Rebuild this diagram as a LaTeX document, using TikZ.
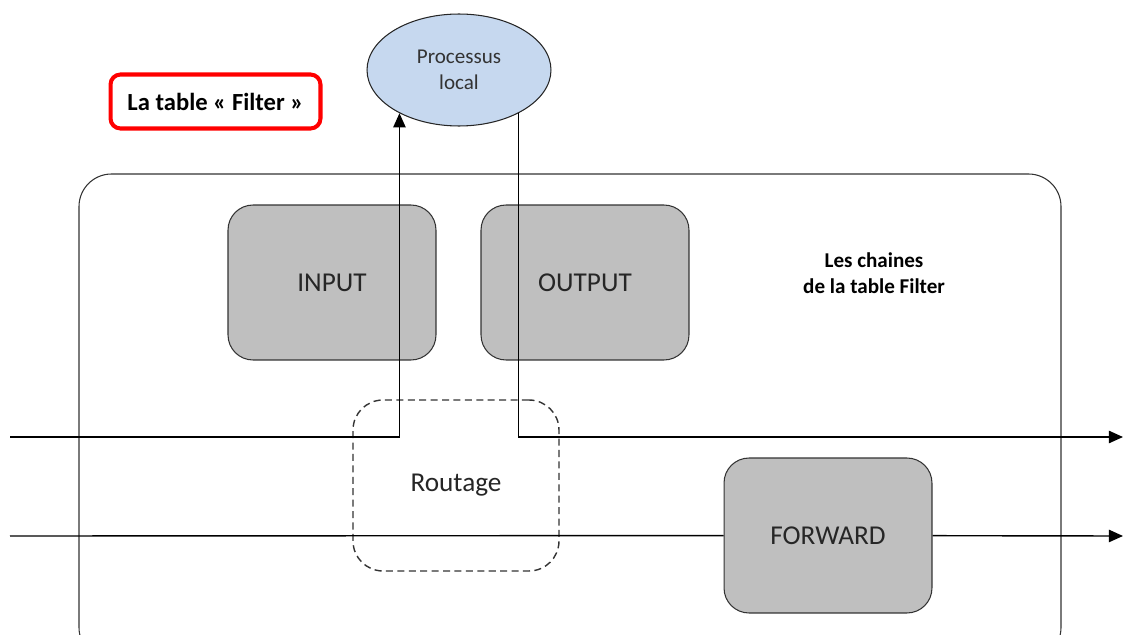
\documentclass[tikz,border=0pt]{standalone}
\usepackage{fontspec}
\setmainfont{Carlito}
\usetikzlibrary{shapes.geometric,arrows.meta}
\definecolor{chaingray}{HTML}{BFBFBF}
\definecolor{procblue}{HTML}{C6D8EF}

\begin{document}
\begin{tikzpicture}[x=0.02cm,y=-0.02cm,
	chain/.style={draw=black!80,line width=0.6pt,fill=chaingray,rounded corners=0.5cm,
		minimum width=4.16cm,minimum height=3.1cm,
		font=\fontsize{15.5}{18}\selectfont,text=black!85},
	route/.style={draw=black!80,line width=0.8pt,dash pattern=on 4pt off 2.5pt,rounded corners=0.6cm,
		minimum width=4.12cm,minimum height=3.42cm,
		font=\fontsize{15.5}{18}\selectfont,text=black!85},
	flow/.style={black,line width=0.8pt},
	tip/.style={-{Triangle[length=8pt,width=7pt]}}]
	\clip (0,0) rectangle (1123,635);
	\draw[black!80,line width=0.6pt,rounded corners=0.65cm] (79,174) rectangle (1061,660);
	\node[ellipse,draw=black!85,line width=0.6pt,fill=procblue,minimum width=3.68cm,minimum height=2.24cm,
		align=center,font=\fontsize{12}{15}\selectfont,text=black!80] (proc) at (459,70) {Processus\\local};
	\node[draw=red,line width=2.3pt,rounded corners=0.2cm,minimum width=4.2cm,minimum height=1.08cm,
		font=\fontsize{14}{16}\selectfont\bfseries] (titre) at (215.5,101.5) {La table « Filter »};
	\node[chain] (input) at (332,282.5) {INPUT};
	\node[chain] (output) at (585,282.5) {OUTPUT};
	\node[chain] (forward) at (828,535.5) {FORWARD};
	\node[route] (routage) at (456,485.5) {Routage};
	\node[align=center,font=\fontsize{12}{15}\selectfont\bfseries] (chaines) at (874,273) {Les chaines\\de la table Filter};
	% flux
	\coordinate (entree1) at (10,437);
	\coordinate (sortie1) at (1123,437);
	\coordinate (entree2) at (10,536);
	\coordinate (sortie2) at (1123,536);
	\draw[flow,tip] (entree1) -| (proc.216);
	\draw[flow,tip] (proc.324) |- (sortie1);
	\draw[flow] (entree2) -- (forward);
	\draw[flow,tip] (forward) -- (sortie2);
\end{tikzpicture}
\end{document}
